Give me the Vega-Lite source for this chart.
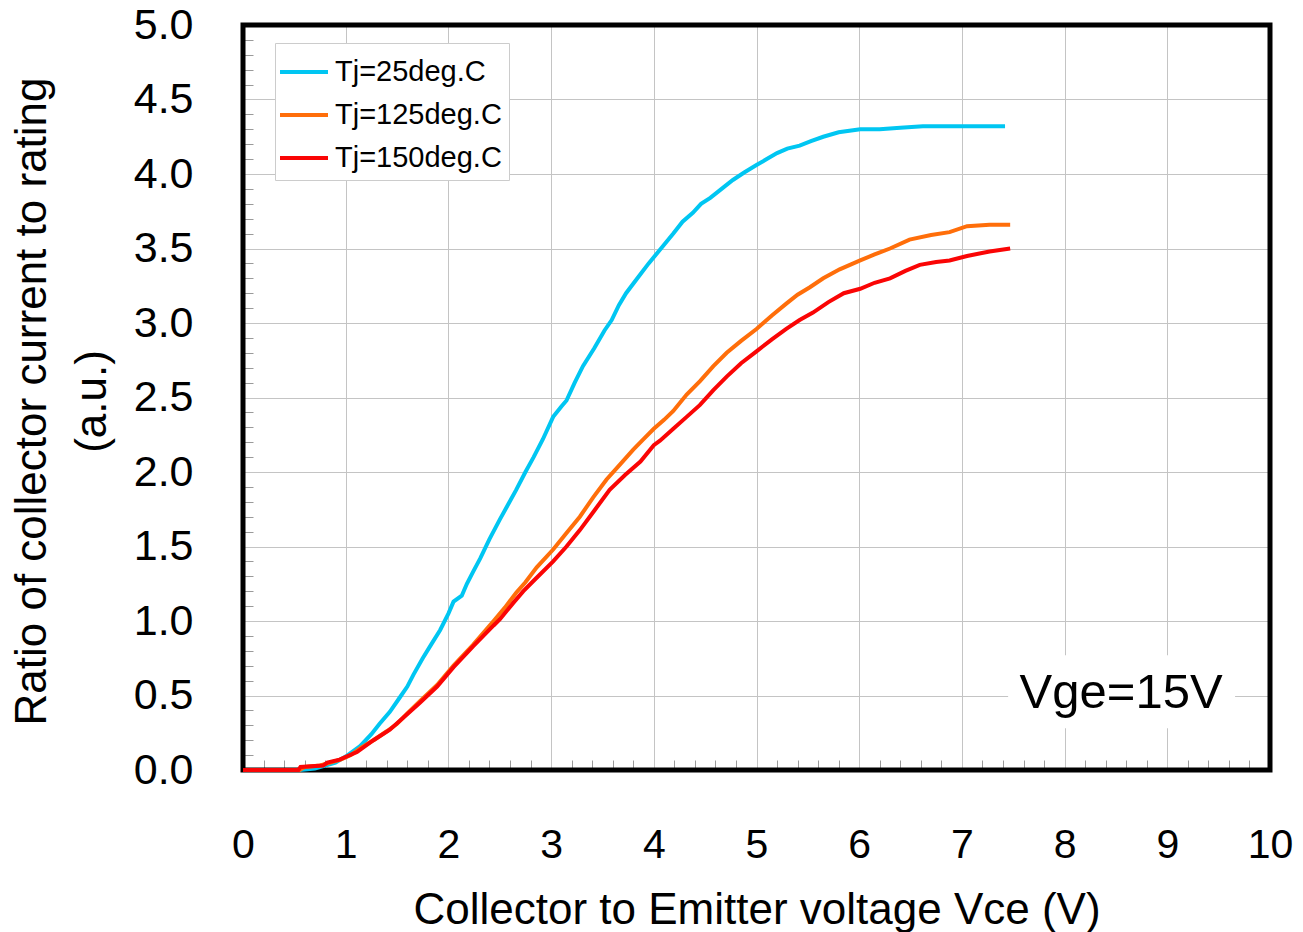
{
  "$schema": "https://vega.github.io/schema/vega-lite/v6.json",
  "autosize": {"type": "none"},
  "width": 1027,
  "height": 745,
  "padding": {"left": 243, "top": 25, "right": 33, "bottom": 162},
  "background": "white",
  "config": {
    "font": "Liberation Sans",
    "view": {"stroke": null},
    "legend": {
      "fillColor": "white",
      "strokeColor": "#cccccc",
      "strokeWidth": 1,
      "padding": 7,
      "labelFont": "Liberation Sans",
      "labelFontSize": 29,
      "labelColor": "#000000",
      "labelOffset": 9,
      "labelLimit": 400,
      "symbolType": "M-1.2,0H1.2",
      "symbolSize": 1600,
      "symbolStrokeWidth": 4,
      "rowPadding": 6,
      "titlePadding": 0
    }
  },
  "datasets": {
    "curves": [
      {"v": 0, "r": 0, "s": "Tj=25deg.C"},
      {"v": 0.55, "r": 0, "s": "Tj=25deg.C"},
      {"v": 0.7, "r": 0.01, "s": "Tj=25deg.C"},
      {"v": 0.8, "r": 0.03, "s": "Tj=25deg.C"},
      {"v": 0.9, "r": 0.05, "s": "Tj=25deg.C"},
      {"v": 1.0, "r": 0.09, "s": "Tj=25deg.C"},
      {"v": 1.14, "r": 0.16, "s": "Tj=25deg.C"},
      {"v": 1.25, "r": 0.24, "s": "Tj=25deg.C"},
      {"v": 1.33, "r": 0.31, "s": "Tj=25deg.C"},
      {"v": 1.43, "r": 0.39, "s": "Tj=25deg.C"},
      {"v": 1.53, "r": 0.49, "s": "Tj=25deg.C"},
      {"v": 1.6, "r": 0.56, "s": "Tj=25deg.C"},
      {"v": 1.66, "r": 0.64, "s": "Tj=25deg.C"},
      {"v": 1.75, "r": 0.75, "s": "Tj=25deg.C"},
      {"v": 1.83, "r": 0.84, "s": "Tj=25deg.C"},
      {"v": 1.92, "r": 0.94, "s": "Tj=25deg.C"},
      {"v": 2.0, "r": 1.05, "s": "Tj=25deg.C"},
      {"v": 2.05, "r": 1.13, "s": "Tj=25deg.C"},
      {"v": 2.13, "r": 1.17, "s": "Tj=25deg.C"},
      {"v": 2.18, "r": 1.25, "s": "Tj=25deg.C"},
      {"v": 2.24, "r": 1.33, "s": "Tj=25deg.C"},
      {"v": 2.31, "r": 1.42, "s": "Tj=25deg.C"},
      {"v": 2.4, "r": 1.55, "s": "Tj=25deg.C"},
      {"v": 2.5, "r": 1.68, "s": "Tj=25deg.C"},
      {"v": 2.58, "r": 1.78, "s": "Tj=25deg.C"},
      {"v": 2.66, "r": 1.88, "s": "Tj=25deg.C"},
      {"v": 2.75, "r": 2.0, "s": "Tj=25deg.C"},
      {"v": 2.83, "r": 2.1, "s": "Tj=25deg.C"},
      {"v": 2.92, "r": 2.22, "s": "Tj=25deg.C"},
      {"v": 3.02, "r": 2.37, "s": "Tj=25deg.C"},
      {"v": 3.1, "r": 2.44, "s": "Tj=25deg.C"},
      {"v": 3.15, "r": 2.48, "s": "Tj=25deg.C"},
      {"v": 3.23, "r": 2.6, "s": "Tj=25deg.C"},
      {"v": 3.31, "r": 2.71, "s": "Tj=25deg.C"},
      {"v": 3.42, "r": 2.83, "s": "Tj=25deg.C"},
      {"v": 3.52, "r": 2.95, "s": "Tj=25deg.C"},
      {"v": 3.59, "r": 3.02, "s": "Tj=25deg.C"},
      {"v": 3.66, "r": 3.12, "s": "Tj=25deg.C"},
      {"v": 3.73, "r": 3.2, "s": "Tj=25deg.C"},
      {"v": 3.84, "r": 3.3, "s": "Tj=25deg.C"},
      {"v": 3.95, "r": 3.4, "s": "Tj=25deg.C"},
      {"v": 4.07, "r": 3.5, "s": "Tj=25deg.C"},
      {"v": 4.19, "r": 3.6, "s": "Tj=25deg.C"},
      {"v": 4.28, "r": 3.68, "s": "Tj=25deg.C"},
      {"v": 4.38, "r": 3.74, "s": "Tj=25deg.C"},
      {"v": 4.46, "r": 3.8, "s": "Tj=25deg.C"},
      {"v": 4.55, "r": 3.84, "s": "Tj=25deg.C"},
      {"v": 4.66, "r": 3.9, "s": "Tj=25deg.C"},
      {"v": 4.77, "r": 3.96, "s": "Tj=25deg.C"},
      {"v": 4.88, "r": 4.01, "s": "Tj=25deg.C"},
      {"v": 5.0, "r": 4.06, "s": "Tj=25deg.C"},
      {"v": 5.1, "r": 4.1, "s": "Tj=25deg.C"},
      {"v": 5.2, "r": 4.14, "s": "Tj=25deg.C"},
      {"v": 5.3, "r": 4.17, "s": "Tj=25deg.C"},
      {"v": 5.42, "r": 4.19, "s": "Tj=25deg.C"},
      {"v": 5.53, "r": 4.22, "s": "Tj=25deg.C"},
      {"v": 5.65, "r": 4.25, "s": "Tj=25deg.C"},
      {"v": 5.8, "r": 4.28, "s": "Tj=25deg.C"},
      {"v": 6.01, "r": 4.3, "s": "Tj=25deg.C"},
      {"v": 6.2, "r": 4.3, "s": "Tj=25deg.C"},
      {"v": 6.4, "r": 4.31, "s": "Tj=25deg.C"},
      {"v": 6.62, "r": 4.32, "s": "Tj=25deg.C"},
      {"v": 7.0, "r": 4.32, "s": "Tj=25deg.C"},
      {"v": 7.42, "r": 4.32, "s": "Tj=25deg.C"},

      {"v": 0, "r": 0, "s": "Tj=125deg.C"},
      {"v": 0.55, "r": 0, "s": "Tj=125deg.C"},
      {"v": 0.6, "r": 0.02, "s": "Tj=125deg.C"},
      {"v": 0.75, "r": 0.03, "s": "Tj=125deg.C"},
      {"v": 0.85, "r": 0.05, "s": "Tj=125deg.C"},
      {"v": 0.95, "r": 0.07, "s": "Tj=125deg.C"},
      {"v": 1.05, "r": 0.1, "s": "Tj=125deg.C"},
      {"v": 1.15, "r": 0.15, "s": "Tj=125deg.C"},
      {"v": 1.27, "r": 0.2, "s": "Tj=125deg.C"},
      {"v": 1.4, "r": 0.26, "s": "Tj=125deg.C"},
      {"v": 1.5, "r": 0.31, "s": "Tj=125deg.C"},
      {"v": 1.6, "r": 0.38, "s": "Tj=125deg.C"},
      {"v": 1.72, "r": 0.46, "s": "Tj=125deg.C"},
      {"v": 1.89, "r": 0.57, "s": "Tj=125deg.C"},
      {"v": 2.05, "r": 0.7, "s": "Tj=125deg.C"},
      {"v": 2.24, "r": 0.84, "s": "Tj=125deg.C"},
      {"v": 2.44, "r": 1.0, "s": "Tj=125deg.C"},
      {"v": 2.55, "r": 1.09, "s": "Tj=125deg.C"},
      {"v": 2.66, "r": 1.19, "s": "Tj=125deg.C"},
      {"v": 2.75, "r": 1.26, "s": "Tj=125deg.C"},
      {"v": 2.86, "r": 1.36, "s": "Tj=125deg.C"},
      {"v": 3.02, "r": 1.48, "s": "Tj=125deg.C"},
      {"v": 3.15, "r": 1.59, "s": "Tj=125deg.C"},
      {"v": 3.28, "r": 1.7, "s": "Tj=125deg.C"},
      {"v": 3.41, "r": 1.83, "s": "Tj=125deg.C"},
      {"v": 3.54, "r": 1.95, "s": "Tj=125deg.C"},
      {"v": 3.67, "r": 2.05, "s": "Tj=125deg.C"},
      {"v": 3.8, "r": 2.15, "s": "Tj=125deg.C"},
      {"v": 3.9, "r": 2.22, "s": "Tj=125deg.C"},
      {"v": 4.0, "r": 2.29, "s": "Tj=125deg.C"},
      {"v": 4.1, "r": 2.35, "s": "Tj=125deg.C"},
      {"v": 4.19, "r": 2.41, "s": "Tj=125deg.C"},
      {"v": 4.32, "r": 2.52, "s": "Tj=125deg.C"},
      {"v": 4.45, "r": 2.61, "s": "Tj=125deg.C"},
      {"v": 4.58, "r": 2.71, "s": "Tj=125deg.C"},
      {"v": 4.71, "r": 2.8, "s": "Tj=125deg.C"},
      {"v": 4.85, "r": 2.88, "s": "Tj=125deg.C"},
      {"v": 5.0, "r": 2.96, "s": "Tj=125deg.C"},
      {"v": 5.15, "r": 3.05, "s": "Tj=125deg.C"},
      {"v": 5.29, "r": 3.13, "s": "Tj=125deg.C"},
      {"v": 5.4, "r": 3.19, "s": "Tj=125deg.C"},
      {"v": 5.52, "r": 3.24, "s": "Tj=125deg.C"},
      {"v": 5.65, "r": 3.3, "s": "Tj=125deg.C"},
      {"v": 5.81, "r": 3.36, "s": "Tj=125deg.C"},
      {"v": 6.01, "r": 3.42, "s": "Tj=125deg.C"},
      {"v": 6.15, "r": 3.46, "s": "Tj=125deg.C"},
      {"v": 6.3, "r": 3.5, "s": "Tj=125deg.C"},
      {"v": 6.49, "r": 3.56, "s": "Tj=125deg.C"},
      {"v": 6.7, "r": 3.59, "s": "Tj=125deg.C"},
      {"v": 6.88, "r": 3.61, "s": "Tj=125deg.C"},
      {"v": 7.05, "r": 3.65, "s": "Tj=125deg.C"},
      {"v": 7.27, "r": 3.66, "s": "Tj=125deg.C"},
      {"v": 7.47, "r": 3.66, "s": "Tj=125deg.C"},

      {"v": 0, "r": 0, "s": "Tj=150deg.C"},
      {"v": 0.54, "r": 0, "s": "Tj=150deg.C"},
      {"v": 0.56, "r": 0.02, "s": "Tj=150deg.C"},
      {"v": 0.78, "r": 0.03, "s": "Tj=150deg.C"},
      {"v": 0.82, "r": 0.05, "s": "Tj=150deg.C"},
      {"v": 0.94, "r": 0.07, "s": "Tj=150deg.C"},
      {"v": 1.11, "r": 0.12, "s": "Tj=150deg.C"},
      {"v": 1.27, "r": 0.2, "s": "Tj=150deg.C"},
      {"v": 1.43, "r": 0.27, "s": "Tj=150deg.C"},
      {"v": 1.56, "r": 0.35, "s": "Tj=150deg.C"},
      {"v": 1.72, "r": 0.45, "s": "Tj=150deg.C"},
      {"v": 1.89, "r": 0.56, "s": "Tj=150deg.C"},
      {"v": 2.05, "r": 0.69, "s": "Tj=150deg.C"},
      {"v": 2.24, "r": 0.83, "s": "Tj=150deg.C"},
      {"v": 2.44, "r": 0.97, "s": "Tj=150deg.C"},
      {"v": 2.5, "r": 1.01, "s": "Tj=150deg.C"},
      {"v": 2.63, "r": 1.12, "s": "Tj=150deg.C"},
      {"v": 2.73, "r": 1.2, "s": "Tj=150deg.C"},
      {"v": 2.83, "r": 1.27, "s": "Tj=150deg.C"},
      {"v": 3.02, "r": 1.4, "s": "Tj=150deg.C"},
      {"v": 3.15, "r": 1.5, "s": "Tj=150deg.C"},
      {"v": 3.28, "r": 1.61, "s": "Tj=150deg.C"},
      {"v": 3.42, "r": 1.74, "s": "Tj=150deg.C"},
      {"v": 3.57, "r": 1.88, "s": "Tj=150deg.C"},
      {"v": 3.72, "r": 1.98, "s": "Tj=150deg.C"},
      {"v": 3.87, "r": 2.07, "s": "Tj=150deg.C"},
      {"v": 4.0, "r": 2.18, "s": "Tj=150deg.C"},
      {"v": 4.06, "r": 2.21, "s": "Tj=150deg.C"},
      {"v": 4.19, "r": 2.29, "s": "Tj=150deg.C"},
      {"v": 4.32, "r": 2.37, "s": "Tj=150deg.C"},
      {"v": 4.45, "r": 2.45, "s": "Tj=150deg.C"},
      {"v": 4.58, "r": 2.55, "s": "Tj=150deg.C"},
      {"v": 4.71, "r": 2.64, "s": "Tj=150deg.C"},
      {"v": 4.85, "r": 2.73, "s": "Tj=150deg.C"},
      {"v": 5.0, "r": 2.81, "s": "Tj=150deg.C"},
      {"v": 5.15, "r": 2.89, "s": "Tj=150deg.C"},
      {"v": 5.29, "r": 2.96, "s": "Tj=150deg.C"},
      {"v": 5.42, "r": 3.02, "s": "Tj=150deg.C"},
      {"v": 5.55, "r": 3.07, "s": "Tj=150deg.C"},
      {"v": 5.7, "r": 3.14, "s": "Tj=150deg.C"},
      {"v": 5.85, "r": 3.2, "s": "Tj=150deg.C"},
      {"v": 6.01, "r": 3.23, "s": "Tj=150deg.C"},
      {"v": 6.15, "r": 3.27, "s": "Tj=150deg.C"},
      {"v": 6.3, "r": 3.3, "s": "Tj=150deg.C"},
      {"v": 6.45, "r": 3.35, "s": "Tj=150deg.C"},
      {"v": 6.59, "r": 3.39, "s": "Tj=150deg.C"},
      {"v": 6.75, "r": 3.41, "s": "Tj=150deg.C"},
      {"v": 6.88, "r": 3.42, "s": "Tj=150deg.C"},
      {"v": 7.05, "r": 3.45, "s": "Tj=150deg.C"},
      {"v": 7.27, "r": 3.48, "s": "Tj=150deg.C"},
      {"v": 7.47, "r": 3.5, "s": "Tj=150deg.C"}
    ],
    "note": [
      {"x1": 7.45, "x2": 9.66, "y1": 0.28, "y2": 0.77, "tx": 8.55, "ty": 0.416, "label": "Vge=15V"}
    ],
    "frame": [
      {"x1": 0, "x2": 10, "y1": 0, "y2": 5}
    ]
  },
  "resolve": {"axis": {"x": "independent", "y": "independent"}},
  "layer": [
    {
      "data": {"name": "note"},
      "mark": {"type": "rect", "fill": "white", "stroke": null},
      "encoding": {
        "x": {"field": "x1", "type": "quantitative",
          "scale": {"domain": [0, 10], "nice": false, "zero": false},
          "axis": {"orient": "bottom", "values": [0.2,0.4,0.6,0.8,1.2,1.4,1.6,1.8,2.2,2.4,2.6,2.8,3.2,3.4,3.6,3.8,4.2,4.4,4.6,4.8,5.2,5.4,5.6,5.8,6.2,6.4,6.6,6.8,7.2,7.4,7.6,7.8,8.2,8.4,8.6,8.8,9.2,9.4,9.6,9.8],
            "labels": false, "domain": false, "grid": false, "ticks": true, "tickSize": -10, "tickColor": "#9a9a9a", "tickWidth": 1, "title": null}},
        "x2": {"field": "x2"},
        "y": {"field": "y1", "type": "quantitative",
          "scale": {"domain": [0, 5], "nice": false, "zero": false},
          "axis": {"orient": "left", "values": [0.1,0.2,0.3,0.4,0.6,0.7,0.8,0.9,1.1,1.2,1.3,1.4,1.6,1.7,1.8,1.9,2.1,2.2,2.3,2.4,2.6,2.7,2.8,2.9,3.1,3.2,3.3,3.4,3.6,3.7,3.8,3.9,4.1,4.2,4.3,4.4,4.6,4.7,4.8,4.9],
            "labels": false, "domain": false, "grid": false, "ticks": true, "tickSize": -10, "tickColor": "#9a9a9a", "tickWidth": 1, "title": null}},
        "y2": {"field": "y2"}
      }
    },
    {
      "data": {"name": "frame"},
      "mark": {"type": "rect", "filled": false, "stroke": "#000000", "strokeWidth": 5, "clip": false},
      "encoding": {
        "x": {"field": "x1", "type": "quantitative", "axis": null},
        "x2": {"field": "x2"},
        "y": {"field": "y1", "type": "quantitative", "axis": null},
        "y2": {"field": "y2"}
      }
    },
    {
      "data": {"name": "curves"},
      "transform": [{"filter": "datum.s === 'Tj=25deg.C'"}],
      "mark": {"type": "line", "strokeWidth": 4, "interpolate": "linear"},
      "encoding": {
        "x": {"field": "v", "type": "quantitative",
          "axis": {"orient": "bottom", "values": [0,1,2,3,4,5,6,7,8,9,10], "grid": true, "gridColor": "#c4c4c4", "gridWidth": 1,
            "ticks": false, "domain": false, "labelFontSize": 41, "labelColor": "#000000", "labelPadding": 55, "labelDx": -5, "labelFlush": false, "labelOverlap": false, "labelBound": false,
            "title": "Collector to Emitter voltage Vce (V)", "titleFontSize": 44, "titleFontWeight": "normal", "titleColor": "#000000", "titleY": 153, "titleBaseline": "alphabetic"}},
        "y": {"field": "r", "type": "quantitative",
          "axis": {"orient": "left", "values": [0,0.5,1,1.5,2,2.5,3,3.5,4,4.5,5], "format": ".1f", "grid": true, "gridColor": "#c4c4c4", "gridWidth": 1,
            "ticks": false, "domain": false, "labelFontSize": 43, "labelColor": "#000000", "labelPadding": 50, "labelDy": 2, "labelFlush": false, "labelOverlap": false, "labelBound": false,
            "title": ["Ratio of collector current to rating", "(a.u.)"], "titleFontSize": 44, "titleFontWeight": "normal", "titleColor": "#000000",
            "titleX": -198, "titleY": 376, "titleAngle": -90, "titleAlign": "center", "titleBaseline": "alphabetic", "titleLineHeight": 60}},
        "color": {"field": "s", "type": "nominal",
          "scale": {"domain": ["Tj=25deg.C", "Tj=125deg.C", "Tj=150deg.C"], "range": ["#00C6F2", "#FF6E0A", "#FA0505"]},
          "legend": {"orient": "none", "legendX": 32, "legendY": 18, "title": null}},
        "order": {"field": "v", "type": "quantitative"}
      }
    },
    {
      "data": {"name": "curves"},
      "transform": [{"filter": "datum.s === 'Tj=125deg.C'"}],
      "mark": {"type": "line", "strokeWidth": 4, "interpolate": "linear"},
      "encoding": {
        "x": {"field": "v", "type": "quantitative", "axis": null},
        "y": {"field": "r", "type": "quantitative", "axis": null},
        "color": {"field": "s", "type": "nominal", "legend": {"orient": "none", "legendX": 32, "legendY": 18, "title": null}},
        "order": {"field": "v", "type": "quantitative"}
      }
    },
    {
      "data": {"name": "curves"},
      "transform": [{"filter": "datum.s === 'Tj=150deg.C'"}],
      "mark": {"type": "line", "strokeWidth": 4, "interpolate": "linear"},
      "encoding": {
        "x": {"field": "v", "type": "quantitative", "axis": null},
        "y": {"field": "r", "type": "quantitative", "axis": null},
        "color": {"field": "s", "type": "nominal", "legend": {"orient": "none", "legendX": 32, "legendY": 18, "title": null}},
        "order": {"field": "v", "type": "quantitative"}
      }
    },
    {
      "data": {"name": "note"},
      "mark": {"type": "text", "fontSize": 49, "align": "center", "baseline": "alphabetic", "color": "#000000", "font": "Liberation Sans"},
      "encoding": {
        "x": {"field": "tx", "type": "quantitative", "axis": null},
        "y": {"field": "ty", "type": "quantitative", "axis": null},
        "text": {"field": "label"}
      }
    }
  ]
}
